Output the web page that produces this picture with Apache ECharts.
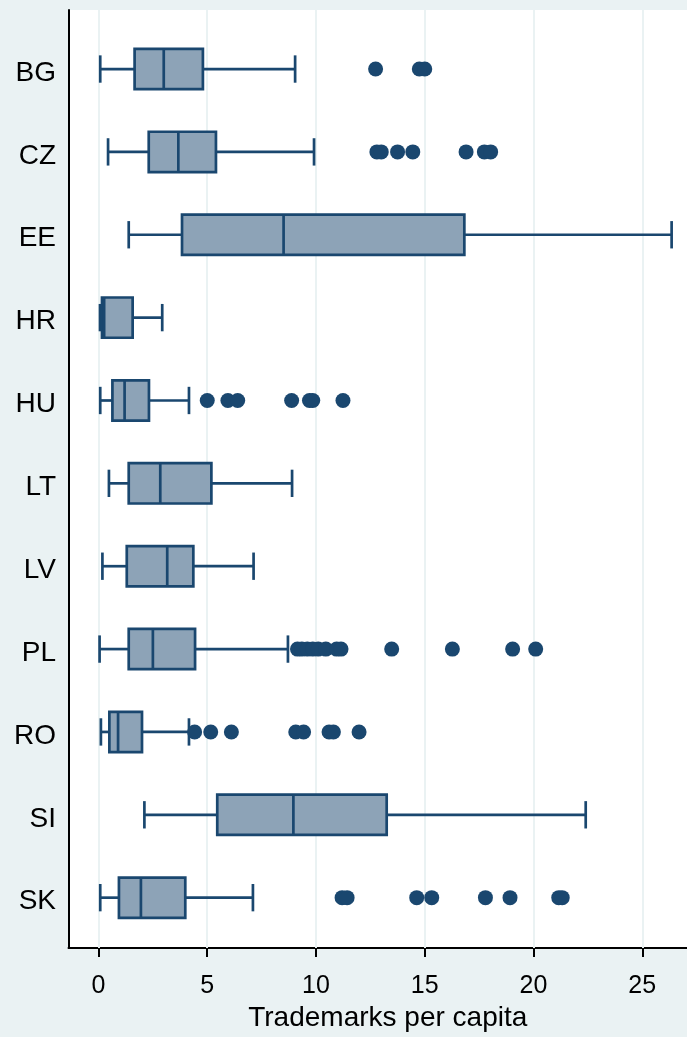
<!DOCTYPE html>
<html>
<head>
<meta charset="utf-8">
<script src="https://cdn.jsdelivr.net/npm/echarts@6/dist/echarts.min.js"></script>
<style>
  html, body { margin: 0; padding: 0; background: #EAF2F3; }
  #chart { width: 687px; height: 1037px; }
</style>
</head>
<body>
<div id="chart"></div>
<script>
// Countries, top to bottom
const countries = ['BG', 'CZ', 'EE', 'HR', 'HU', 'LT', 'LV', 'PL', 'RO', 'SI', 'SK'];

// Box-plot summary per country (trademarks per capita)
const lowerWhisker = [0.08, 0.44, 1.39, 0.07, 0.08, 0.48, 0.18, 0.05, 0.11, 2.11, 0.08];
const quartile1    = [1.66, 2.31, 3.84, 0.16, 0.64, 1.39, 1.30, 1.39, 0.50, 5.46, 0.94];
const medianValue  = [3.00, 3.67, 8.51, 0.26, 1.20, 2.84, 3.16, 2.50, 0.90, 8.96, 1.95];
const quartile3    = [4.80, 5.40, 16.82, 1.57, 2.32, 5.19, 4.36, 4.44, 2.00, 13.25, 3.99];
const upperWhisker = [9.04, 9.91, 26.35, 2.93, 4.16, 8.90, 7.13, 8.71, 4.16, 22.40, 7.10];

// Outside values per country
const outBG = [12.74, 14.75, 15.0];
const outCZ = [12.8, 13.0, 13.75, 14.45, 16.9, 17.74, 18.03];
const outEE = [];
const outHR = [];
const outHU = [5.0, 5.95, 6.4, 8.88, 9.7, 9.85, 11.24];
const outLT = [];
const outLV = [];
const outPL = [9.15, 9.35, 9.6, 9.85, 10.1, 10.45, 10.95, 11.15, 13.48, 16.27, 19.04, 20.1];
const outRO = [4.42, 5.16, 6.11, 9.07, 9.43, 10.6, 10.8, 11.98];
const outSI = [];
const outSK = [11.2, 11.43, 14.63, 15.32, 17.79, 18.92, 21.16, 21.32];
const outliers = [outBG, outCZ, outEE, outHR, outHU, outLT, outLV, outPL, outRO, outSI, outSK];

// Axis ticks
const xTicks = [0, 5, 10, 15, 20, 25];
const xMin = -1.379;
const xMax = 27.057;

const NAVY = '#1A476F';
const FILL = '#8DA3B7';
const GRID_LINE = '#EAF2F3';
const FONT = 'Liberation Sans, Arial, sans-serif';

const boxData = countries.map((c, i) =>
  [i, lowerWhisker[i], quartile1[i], medianValue[i], quartile3[i], upperWhisker[i]]);

const outlierData = [];
outliers.forEach((arr, i) => arr.forEach(v => outlierData.push([v, i])));

function renderBox(params, api) {
  const idx = api.value(0);
  const lo = api.coord([api.value(1), idx]);
  const b1 = api.coord([api.value(2), idx]);
  const md = api.coord([api.value(3), idx]);
  const b3 = api.coord([api.value(4), idx]);
  const hi = api.coord([api.value(5), idx]);
  const band = api.size([0, 1])[1];
  const bh = band * 0.243;
  const ch = band * 0.165;
  const y = lo[1];
  const st = { stroke: NAVY, lineWidth: 2.7, fill: null };
  return {
    type: 'group',
    children: [
      { type: 'line', shape: { x1: lo[0], y1: y, x2: b1[0], y2: y }, style: st },
      { type: 'line', shape: { x1: b3[0], y1: y, x2: hi[0], y2: y }, style: st },
      { type: 'line', shape: { x1: lo[0], y1: y - ch, x2: lo[0], y2: y + ch }, style: st },
      { type: 'line', shape: { x1: hi[0], y1: y - ch, x2: hi[0], y2: y + ch }, style: st },
      { type: 'rect', shape: { x: b1[0], y: y - bh, width: b3[0] - b1[0], height: 2 * bh },
        style: { fill: FILL, stroke: NAVY, lineWidth: 2.7 } },
      { type: 'line', shape: { x1: md[0], y1: y - bh, x2: md[0], y2: y + bh }, style: st }
    ]
  };
}

const chart = echarts.init(document.getElementById('chart'), null, { renderer: 'canvas' });

chart.setOption({
  backgroundColor: '#EAF2F3',
  animation: false,
  textStyle: { fontFamily: FONT },
  grid: [
    // plot frame
    { left: 68.5, right: 0, top: 10, bottom: 80, show: true, backgroundColor: '#FFFFFF', borderWidth: 0 },
    // category band area
    { left: 68.5, right: 0, top: 27.6, height: 911.5, show: false }
  ],
  xAxis: [
    {
      gridIndex: 0, type: 'value', min: xMin, max: xMax, position: 'bottom',
      axisLine: { show: true, onZero: false, lineStyle: { color: '#000', width: 2 } },
      axisTick: { show: true, customValues: xTicks, length: 9, lineStyle: { color: '#000', width: 2 } },
      axisLabel: { customValues: xTicks, fontSize: 25, color: '#000', margin: 26, fontFamily: FONT },
      splitLine: { show: false },
      name: 'Trademarks per capita', nameLocation: 'middle', nameGap: 54,
      nameTextStyle: { fontSize: 28, color: '#000', fontFamily: FONT, padding: [0, 0, 0, 20] }
    },
    {
      gridIndex: 1, type: 'value', min: xMin, max: xMax, show: false
    }
  ],
  yAxis: [
    {
      gridIndex: 0, type: 'value', min: 0, max: 1,
      axisLine: { show: true, onZero: false, lineStyle: { color: '#000', width: 2 } },
      axisTick: { show: false }, axisLabel: { show: false }, splitLine: { show: false }
    },
    {
      gridIndex: 1, type: 'category', data: countries, inverse: true, boundaryGap: true,
      axisLine: { show: false }, axisTick: { show: false },
      axisLabel: {
        margin: 12.5,
        formatter: v => '{c|' + v + '}',
        rich: { c: { fontSize: 28, color: '#000', fontFamily: FONT, padding: [8, 0, 0, 0] } }
      },
      splitLine: { show: false }
    }
  ],
  series: [
    {
      // vertical grid lines at the tick positions
      type: 'line', xAxisIndex: 0, yAxisIndex: 0, data: [], silent: true, z: 1,
      markLine: {
        silent: true, z: 1, symbol: ['none', 'none'], label: { show: false },
        lineStyle: { color: GRID_LINE, width: 2, type: 'solid' },
        data: xTicks.map(v => ({ xAxis: v }))
      }
    },
    {
      type: 'custom', xAxisIndex: 1, yAxisIndex: 1, z: 10,
      renderItem: renderBox, data: boxData,
      encode: { x: [1, 2, 3, 4, 5], y: 0 }, silent: true
    },
    {
      type: 'scatter', xAxisIndex: 1, yAxisIndex: 1, z: 11,
      data: outlierData, symbol: 'circle', symbolSize: 15,
      itemStyle: { color: NAVY, opacity: 1 }, silent: true
    }
  ]
});
</script>
</body>
</html>
